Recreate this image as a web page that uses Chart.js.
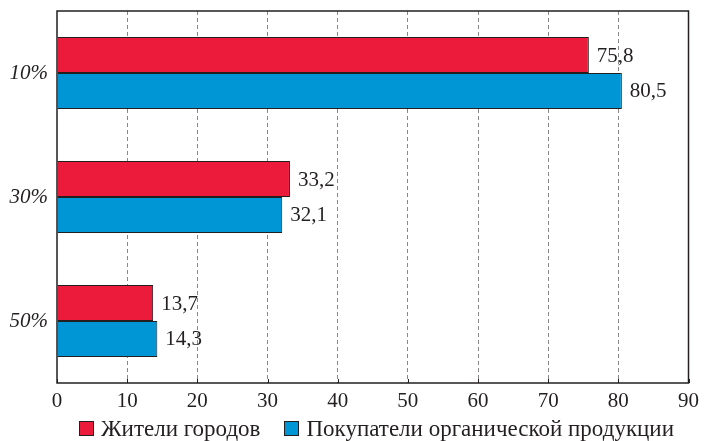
<!DOCTYPE html>
<html>
<head>
<meta charset="utf-8">
<script src="https://cdn.jsdelivr.net/npm/chart.js@4/dist/chart.umd.min.js"></script>
<style>
  html, body { margin: 0; padding: 0; background: #fff; }
  #wrap { position: relative; width: 705px; height: 441px; }
  #legend {
    position: absolute; left: 79px; top: 417px;
    display: flex; align-items: center;
    font: 23px/23px 'Liberation Serif', 'Times New Roman', serif;
    color: #231f20; white-space: nowrap;
  }
  #legend .item { display: flex; align-items: center; margin-right: 24px; }
  #legend .box {
    width: 15px; height: 15px; box-sizing: border-box;
    border: 1px solid #231f20; margin-right: 7px;
  }
</style>
</head>
<body>
<div id="wrap">
  <canvas id="chart" width="705" height="441"></canvas>
  <div id="legend"></div>
</div>
<script>
/* ---------- Data ---------- */
const CATEGORIES = ['10%', '30%', '50%'];
const SERIES_NAMES = ['Жители городов', 'Покупатели органической продукции'];
const CITY_RESIDENTS = [75.8, 33.2, 13.7];
const ORGANIC_BUYERS = [80.5, 32.1, 14.3];
const X_MIN = 0;
const X_MAX = 90;
const X_STEP = 10;

const RED = '#ed1b3b';
const BLUE = '#0096d6';
const FONT = "'Liberation Serif', 'Times New Roman', serif";
const INK = '#231f20';

function formatValue(v) {
  return v.toFixed(1).replace('.', ',');
}

// value labels at the end of each bar, frame and inward tick marks
const extras = {
  id: 'extras',
  afterDatasetsDraw(chart) {
    const { ctx, chartArea } = chart;
    ctx.save();
    ctx.font = '21px ' + FONT;
    ctx.fillStyle = INK;
    ctx.textBaseline = 'middle';
    ctx.textAlign = 'left';
    chart.data.datasets.forEach((ds, di) => {
      chart.getDatasetMeta(di).data.forEach((bar, i) => {
        ctx.fillText(formatValue(ds.data[i]), bar.x + 8, bar.y + 1);
      });
    });

    // short solid ticks on the bottom edge
    const xs = chart.scales.x;
    ctx.strokeStyle = INK;
    ctx.lineWidth = 1;
    for (let v = X_MIN; v <= X_MAX; v += X_STEP) {
      const px = Math.round(xs.getPixelForValue(v)) + 0.5;
      ctx.beginPath();
      ctx.moveTo(px, chartArea.bottom);
      ctx.lineTo(px, chartArea.bottom - 4);
      ctx.stroke();
    }

    ctx.lineWidth = 1.5;
    ctx.strokeRect(chartArea.left, chartArea.top, chartArea.right - chartArea.left, chartArea.bottom - chartArea.top);
    ctx.restore();
  },
};

const chart = new Chart(document.getElementById('chart'), {
  type: 'bar',
  data: {
    labels: CATEGORIES,
    datasets: [
      {
        label: SERIES_NAMES[0],
        data: CITY_RESIDENTS,
        backgroundColor: RED,
        borderColor: INK,
        borderWidth: 1,
        barPercentage: 1,
        categoryPercentage: 0.58,
      },
      {
        label: SERIES_NAMES[1],
        data: ORGANIC_BUYERS,
        backgroundColor: BLUE,
        borderColor: INK,
        borderWidth: 1,
        barPercentage: 1,
        categoryPercentage: 0.58,
      },
    ],
  },
  options: {
    indexAxis: 'y',
    responsive: false,
    animation: false,
    layout: { padding: { top: 11, right: 13, left: 0, bottom: 28 } },
    scales: {
      x: {
        min: X_MIN,
        max: X_MAX,
        ticks: {
          stepSize: X_STEP,
          color: INK,
          font: { family: FONT, size: 21 },
          padding: 6,
        },
        grid: {
          drawTicks: false,
          color: (c) => (c.tick && (c.tick.value === X_MIN || c.tick.value === X_MAX)) ? 'rgba(0,0,0,0)' : '#888',
          lineWidth: 1,
        },
        border: { display: false, dash: [4, 3] },
        afterFit(scale) { scale.height = 30; },
      },
      y: {
        ticks: {
          color: INK,
          font: { family: FONT, size: 21, style: 'italic' },
          padding: 9,
        },
        grid: { display: false, drawTicks: false },
        border: { display: false },
        afterFit(scale) {
          scale.width = 57;
          scale.paddingTop = 0;
          scale.paddingBottom = 0;
        },
      },
    },
    plugins: {
      legend: { display: false },
      tooltip: { enabled: false },
    },
  },
  plugins: [extras],
});

/* ---------- HTML legend ---------- */
const legendEl = document.getElementById('legend');
chart.data.datasets.forEach(ds => {
  const item = document.createElement('span');
  item.className = 'item';
  item.innerHTML = `<span class="box" style="background:${ds.backgroundColor}"></span><span>${ds.label}</span>`;
  legendEl.appendChild(item);
});
</script>
</body>
</html>
